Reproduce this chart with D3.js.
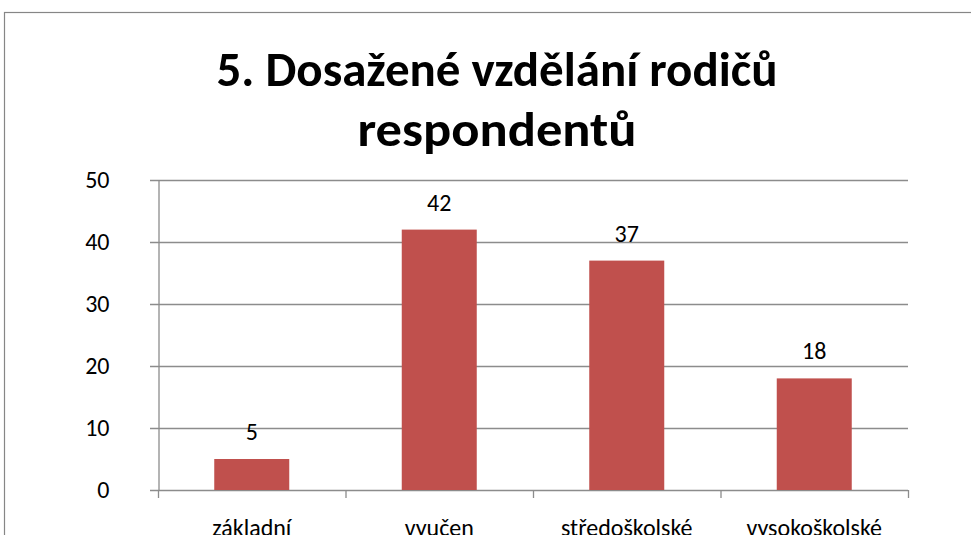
<!DOCTYPE html>
<html><head><meta charset="utf-8">
<script src="https://cdn.jsdelivr.net/npm/d3@7"></script>
<style>html,body{margin:0;padding:0;background:#fff;overflow:hidden}</style>
</head><body>
<svg id="c" width="971" height="535"></svg>
<script>
const titleLines = ["5. Dosažené vzdělání rodičů", "respondentů"];
const categories = ["základní", "vyučen", "středoškolské", "vysokoškolské"];
const values = [5, 42, 37, 18];
const yTicks = [0, 10, 20, 30, 40, 50];

const FONT = "Carlito, Calibri, Lato, sans-serif";
const svg = d3.select("#c");
svg.append("rect").attr("x", 4.5).attr("y", 12.5).attr("width", 1000).attr("height", 600)
  .attr("fill", "#fff").attr("stroke", "#868686").attr("stroke-width", 1.2);

const L = 158, R = 908, T = 180, B = 490;
const x = d3.scaleBand().domain(categories).range([L, R]).paddingInner(0.6).paddingOuter(0.3);
const y = d3.scaleLinear().domain([0, 50]).range([B, T]);

// gridlines
svg.append("g").selectAll("line").data(yTicks).join("line")
  .attr("x1", L - 8).attr("x2", R).attr("y1", d => y(d) + 0.5).attr("y2", d => y(d) + 0.5)
  .attr("stroke", "#8c8c8c").attr("stroke-width", 1.3);

// y axis
const ya = svg.append("g").attr("transform", `translate(${L + 0.5},0)`)
  .call(d3.axisLeft(y).tickValues(yTicks).tickSize(0).tickPadding(49));
ya.select(".domain").attr("stroke", "#8c8c8c").attr("stroke-width", 1.3);
ya.selectAll("text").attr("font-family", FONT).attr("font-size", 24).attr("fill", "#000");

// x axis
const xa = svg.append("g").attr("transform", `translate(0,${B})`)
  .call(d3.axisBottom(x).tickSize(0));
xa.select(".domain").remove();
xa.selectAll("text").attr("font-family", FONT).attr("font-size", 24).attr("fill", "#000")
  .attr("y", 536 - B).attr("dy", 0);
const step = (R - L) / categories.length;
svg.append("g").selectAll("line").data(d3.range(categories.length + 1)).join("line")
  .attr("x1", i => L + i * step + 0.5).attr("x2", i => L + i * step + 0.5)
  .attr("y1", B).attr("y2", B + 8).attr("stroke", "#8c8c8c").attr("stroke-width", 1.3);

// bars
svg.append("g").selectAll("rect").data(values).join("rect")
  .attr("x", (d, i) => x(categories[i])).attr("width", x.bandwidth())
  .attr("y", d => y(d)).attr("height", d => B - y(d)).attr("fill", "#C0504D");

// value labels
svg.append("g").selectAll("text").data(values).join("text")
  .attr("x", (d, i) => x(categories[i]) + x.bandwidth() / 2).attr("y", d => y(d) - 19)
  .attr("text-anchor", "middle").attr("font-family", FONT).attr("font-size", 24).text(d => d);

// title
const tg = svg.append("g");
const FS = 48;
const t1 = tg.append("text").attr("x", 497).attr("y", 86).attr("text-anchor", "middle")
  .attr("font-family", FONT).attr("font-weight", "bold").attr("font-size", FS).text(titleLines[0]);
const t2 = tg.append("text").attr("x", 497).attr("y", 146).attr("text-anchor", "middle")
  .attr("font-family", FONT).attr("font-weight", "bold").attr("font-size", FS).text(titleLines[1]);
t1.attr("textLength", 561).attr("lengthAdjust", "spacingAndGlyphs");
t2.attr("textLength", 279).attr("lengthAdjust", "spacingAndGlyphs");
</script>
</body></html>
